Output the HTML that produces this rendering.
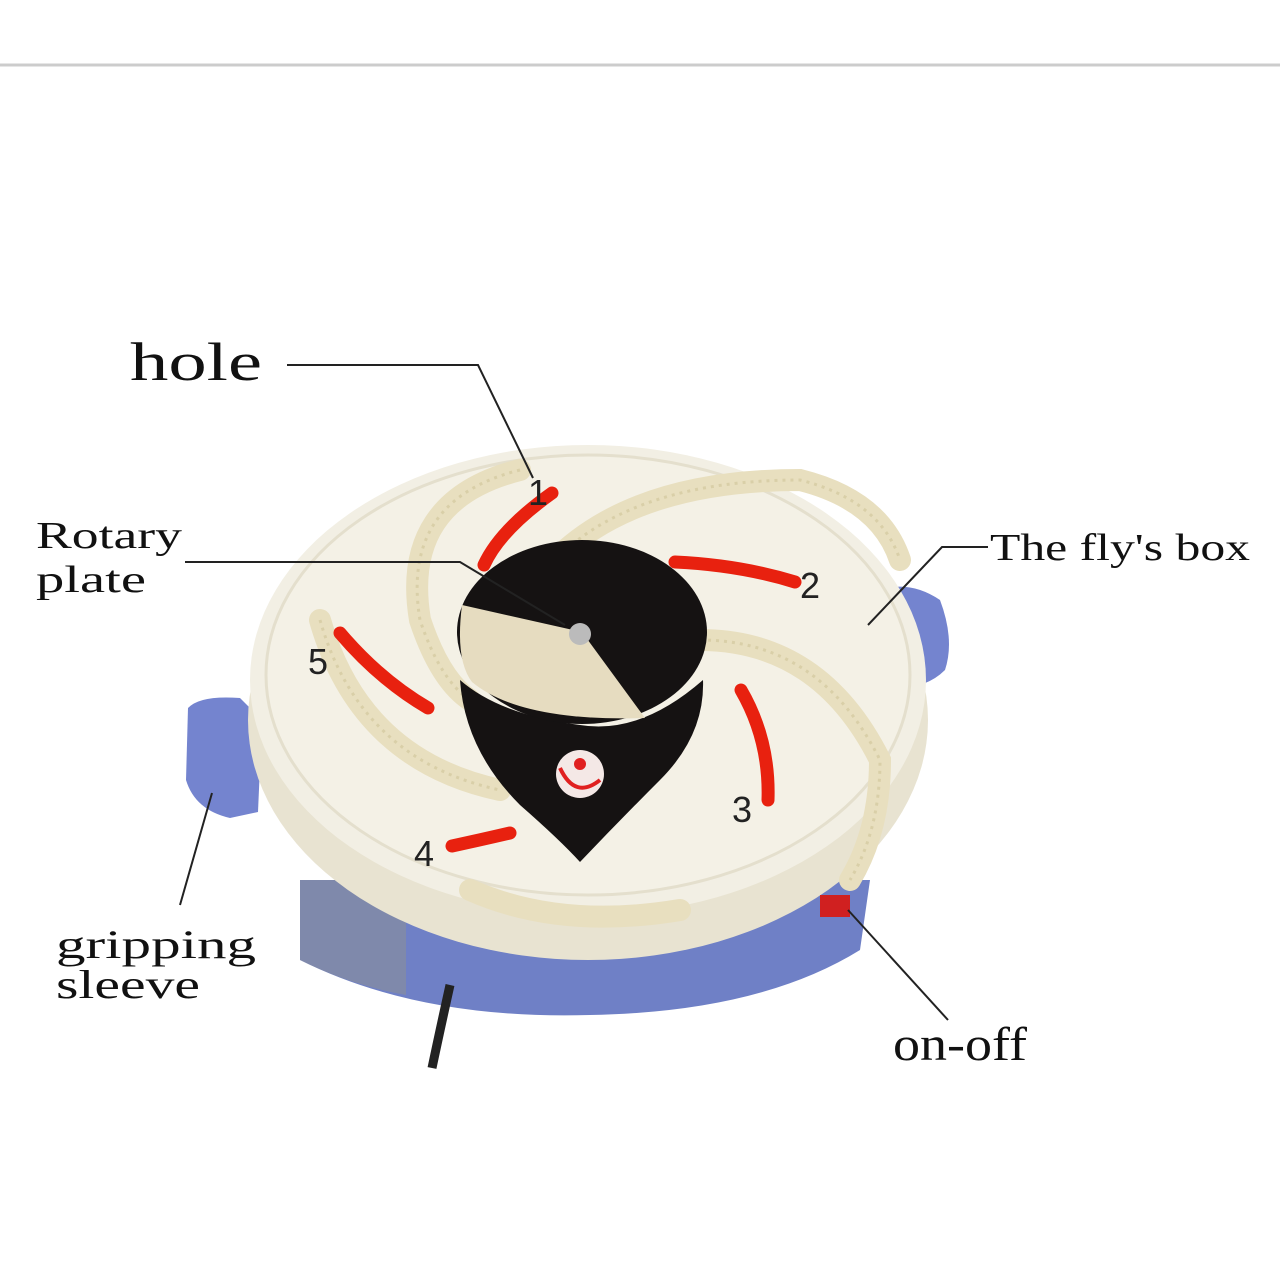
<!DOCTYPE html><html><head><style>body{margin:0;background:#fff}svg{display:block}</style></head><body>
<svg width="1280" height="1280" viewBox="0 0 1280 1280" xmlns="http://www.w3.org/2000/svg">
<rect width="1280" height="1280" fill="#fff"/>
<line x1="0" y1="65" x2="1280" y2="65" stroke="#ccc" stroke-width="3"/>
<!-- base -->
<path d="M300 880 L300 960 Q420 1020 590 1015 Q760 1012 860 950 L870 880 Z" fill="#6f80c6"/>
<path d="M300 880 L300 960 Q350 985 406 995 L406 880 Z" fill="#8a8f9a" opacity="0.6"/>
<path d="M450 985 Q440 1030 432 1068" stroke="#222" stroke-width="9" fill="none"/>
<!-- handles -->
<path d="M188 708 Q200 695 240 698 L262 720 L258 812 L230 818 Q195 810 186 780 Z" fill="#7484cf"/>
<path d="M880 590 Q910 580 940 600 Q955 640 945 670 Q925 690 890 688 Z" fill="#7484cf"/>
<!-- lid side -->
<ellipse cx="588" cy="720" rx="340" ry="240" fill="#e8e3d1"/>
<ellipse cx="588" cy="680" rx="338" ry="235" fill="#f2efe4"/>
<ellipse cx="588" cy="675" rx="322" ry="220" fill="#f4f1e6" stroke="#e4dfcd" stroke-width="3"/>
<!-- spiral ridges -->
<g fill="none" stroke="#e8dfbf" stroke-width="22" stroke-linecap="round">
<path d="M520 470 Q400 500 420 620 Q440 680 470 700"/>
<path d="M560 555 Q640 480 800 480 Q880 500 900 560"/>
<path d="M700 640 Q820 640 880 760 Q880 830 850 880"/>
<path d="M320 620 Q360 760 500 790"/>
<path d="M470 890 Q560 930 680 910"/>
</g>
<g fill="none" stroke="#d9cfa8" stroke-width="3" stroke-dasharray="3 5">
<path d="M520 470 Q400 500 420 620 Q440 680 470 700"/>
<path d="M560 555 Q640 480 800 480 Q880 500 900 560"/>
<path d="M700 640 Q820 640 880 760 Q880 830 850 880"/>
<path d="M320 620 Q360 760 500 790"/>
</g>
<!-- red arcs -->
<g fill="none" stroke="#e8210f" stroke-width="13" stroke-linecap="round">
<path d="M552 493 Q500 530 484 565"/>
<path d="M675 562 Q740 565 795 582"/>
<path d="M741 690 Q770 740 768 800"/>
<path d="M340 633 Q380 680 428 708"/>
<path d="M452 846 Q480 840 510 833"/>
</g>
<!-- plate -->
<path d="M460 680 Q465 750 520 805 Q560 840 580 862 Q620 820 660 780 Q705 735 703 680 Q640 735 580 725 Q500 715 460 680 Z" fill="#151212"/>
<ellipse cx="582" cy="632" rx="125" ry="92" fill="#151212"/>
<path d="M582 632 L462 605 Q455 660 472 682 Q520 722 645 718 Z" fill="#e6dcc0"/>
<circle cx="580" cy="634" r="11" fill="#bbb"/>
<circle cx="580" cy="774" r="24" fill="#f4e8e6"/>
<circle cx="580" cy="764" r="6" fill="#e02020"/>
<path d="M560 768 Q575 800 600 780" stroke="#e02020" stroke-width="4" fill="none"/>
<rect x="820" y="895" width="30" height="22" fill="#d02020"/>
<!-- leader lines -->
<g stroke="#222" stroke-width="2" fill="none">
<path d="M287 365 L478 365 L533 478"/>
<path d="M185 562 L460 562 L565 625"/>
<path d="M988 547 L942 547 L868 625"/>
<path d="M180 905 L212 793"/>
<path d="M848 910 L948 1020"/>
</g>
<g font-family="Liberation Serif, serif" fill="#111">
<text x="130" y="380" font-size="54" textLength="132" lengthAdjust="spacingAndGlyphs">hole</text>
<text x="36" y="548" font-size="38" textLength="146" lengthAdjust="spacingAndGlyphs">Rotary</text>
<text x="36" y="592" font-size="38" textLength="110" lengthAdjust="spacingAndGlyphs">plate</text>
<text x="990" y="560" font-size="38" textLength="260" lengthAdjust="spacingAndGlyphs">The fly's box</text>
<text x="56" y="958" font-size="40" textLength="200" lengthAdjust="spacingAndGlyphs">gripping</text>
<text x="56" y="998" font-size="40" textLength="144" lengthAdjust="spacingAndGlyphs">sleeve</text>
<text x="893" y="1060" font-size="48" textLength="134" lengthAdjust="spacingAndGlyphs">on-off</text>
</g>
<g font-family="Liberation Sans, sans-serif" fill="#222" font-size="36">
<text x="528" y="505">1</text><text x="800" y="598">2</text><text x="732" y="822">3</text>
<text x="414" y="866">4</text><text x="308" y="674">5</text>
</g>
</svg></body></html>
